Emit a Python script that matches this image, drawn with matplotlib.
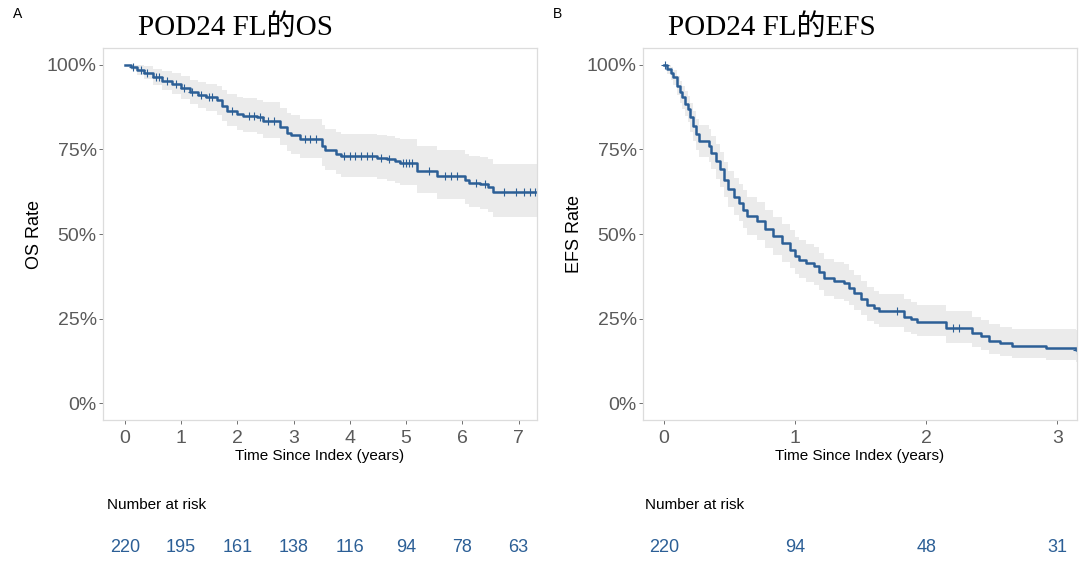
import numpy as np
import matplotlib
matplotlib.use("Agg")
import matplotlib.pyplot as plt
from matplotlib.transforms import blended_transform_factory

plt.rcParams['font.family'] = ['Liberation Sans', 'DejaVu Sans']

# OS curve (A): step knots, survival %, 95% band
os_t = [0.00, 0.10, 0.22, 0.33, 0.50, 0.65, 0.83, 1.00, 1.16, 1.30, 1.45, 1.63, 1.72, 1.81,
        2.00, 2.10, 2.34, 2.46, 2.75, 2.88, 2.96, 3.11, 3.50, 3.56, 3.75, 3.85, 4.48, 4.66,
        4.80, 4.89, 5.20, 5.55, 6.05, 6.12, 6.32, 6.45, 6.55, 7.33]
os_s = [100.0, 99.5, 98.6, 97.7, 96.4, 95.3, 94.4, 93.2, 91.9, 91.0, 90.4, 89.5, 87.8, 86.4,
        85.5, 85.0, 84.5, 83.5, 81.5, 80.0, 79.3, 78.0, 76.0, 74.8, 73.8, 73.1, 72.6, 72.1,
        71.5, 71.1, 68.7, 67.2, 66.0, 65.2, 64.7, 64.0, 62.4, 62.4]
os_lo = [100.0, 98.5, 97.0, 95.8, 94.0, 92.6, 91.4, 89.9, 88.4, 87.2, 86.4, 85.3, 83.4, 81.8,
         80.8, 80.2, 79.6, 78.4, 76.2, 74.6, 73.8, 72.4, 70.2, 68.9, 67.8, 67.0, 66.4, 65.8,
         65.1, 64.6, 62.0, 60.3, 58.9, 58.0, 57.4, 56.6, 54.9, 54.9]
os_hi = [100.0, 100.0, 100.0, 99.6, 98.9, 98.2, 97.5, 96.6, 95.6, 95.0, 94.5, 93.9, 92.5, 91.3,
         90.5, 90.1, 89.7, 88.9, 87.2, 85.9, 85.3, 84.1, 82.3, 81.2, 80.3, 79.7, 79.3, 78.9,
         78.4, 78.1, 76.0, 74.7, 73.8, 73.1, 72.7, 72.1, 70.6, 70.6]
os_cens = [0.15, 0.28, 0.40, 0.55, 0.60, 0.75, 0.90, 1.05, 1.20, 1.35, 1.50, 1.55, 1.90, 2.20,
           2.30, 2.40, 2.55, 2.65, 3.20, 3.30, 3.40, 3.90, 4.00, 4.10, 4.20, 4.30, 4.40, 4.55,
           4.70, 4.95, 5.00, 5.05, 5.10, 5.40, 5.70, 5.80, 5.90, 6.25, 6.40, 6.75, 6.95, 7.10,
           7.20, 7.30]
os_risk_t = [0, 1, 2, 3, 4, 5, 6, 7]
os_risk = [220, 195, 161, 138, 116, 94, 78, 63]

# EFS curve (B)
efs_t = [0.00, 0.02, 0.05, 0.07, 0.10, 0.12, 0.135, 0.16, 0.185, 0.20, 0.22, 0.245, 0.27,
         0.34, 0.36, 0.40, 0.43, 0.46, 0.49, 0.53, 0.57, 0.60, 0.63, 0.71, 0.77, 0.83, 0.90,
         0.96, 1.00, 1.03, 1.08, 1.14, 1.18, 1.22, 1.30, 1.37, 1.41, 1.45, 1.50, 1.55, 1.60,
         1.64, 1.83, 1.88, 1.93, 2.15, 2.35, 2.42, 2.48, 2.56, 2.65, 2.91, 3.14, 3.16]
efs_s = [100.0, 98.8, 97.5, 96.3, 93.9, 92.0, 90.4, 88.5, 86.9, 84.5, 82.0, 79.5, 77.5,
         76.1, 74.1, 71.5, 69.1, 66.0, 63.2, 61.0, 59.3, 57.2, 55.3, 53.8, 51.5, 49.3, 47.3,
         45.4, 43.5, 42.4, 41.3, 40.4, 38.7, 37.0, 36.0, 35.5, 34.0, 32.5, 30.8, 29.1, 28.0,
         27.1, 25.6, 24.8, 24.1, 22.2, 20.7, 19.7, 18.5, 17.7, 17.0, 16.2, 15.7, 15.7]
efs_lo = [100.0, 97.3, 95.5, 94.0, 91.0, 88.8, 87.0, 84.8, 83.0, 80.3, 77.6, 74.9, 72.7,
          71.2, 69.1, 66.4, 63.9, 60.8, 57.9, 55.6, 53.9, 51.8, 49.8, 48.3, 46.0, 43.8, 41.8,
          39.9, 38.1, 37.0, 35.9, 35.0, 33.4, 31.7, 30.8, 30.3, 28.9, 27.5, 25.9, 24.3, 23.3,
          22.5, 21.0, 20.3, 19.7, 17.9, 16.5, 15.6, 14.5, 13.8, 13.2, 12.6, 12.2, 12.2]
efs_hi = [100.0, 100.0, 99.5, 98.6, 96.8, 95.2, 93.9, 92.2, 90.8, 88.7, 86.4, 84.1, 82.3,
          81.0, 79.1, 76.6, 74.3, 71.4, 68.7, 66.6, 64.9, 62.9, 61.0, 59.5, 57.2, 55.0, 53.0,
          51.1, 49.2, 48.1, 47.0, 46.1, 44.3, 42.6, 41.6, 41.0, 39.5, 38.0, 36.2, 34.4, 33.2,
          32.3, 30.7, 29.9, 29.1, 27.1, 25.6, 24.6, 23.3, 22.6, 21.9, 21.8, 21.6, 21.6]
efs_cens = [0.01, 1.78, 2.20, 2.25, 3.15]
efs_risk_t = [0, 1, 2, 3]
efs_risk = [220, 94, 48, 31]

line_col = '#2c5f96'
band_col = '#ebebeb'
tick_col = '#5a5a5a'

fig = plt.figure(figsize=(10.8, 5.67), dpi=100)
ax1 = fig.add_axes([0.0954, 0.2593, 0.4019, 0.656])
ax2 = fig.add_axes([0.5954, 0.2593, 0.4019, 0.656])


def km_panel(ax, t, s, lo, hi, cens, xlim, xticks, ylab, risk_t, risk, risk_x):
    t = np.array(t)
    s = np.array(s) / 100
    ax.fill_between(t, np.array(lo) / 100, np.array(hi) / 100, step='post',
                    color=band_col, lw=0)
    ax.step(t, s, where='post', color=line_col, lw=1.8)
    c = np.array(cens)
    cy = s[np.searchsorted(t, c, side='right') - 1]
    ax.plot(c, cy, ls='none', marker='+', ms=6, mew=0.8, color=line_col)
    ax.set_xlim(*xlim)
    ax.set_ylim(-0.05, 1.05)
    ax.set_xticks(xticks)
    ax.set_yticks([0, 0.25, 0.5, 0.75, 1.0])
    ax.set_yticklabels(['0%', '25%', '50%', '75%', '100%'])
    ax.tick_params(colors=tick_col, labelsize=14, length=3, width=0.6)
    ax.tick_params(axis='y', pad=1.5)
    ax.tick_params(axis='x', pad=4)
    for sp in ax.spines.values():
        sp.set_color('#dcdcdc')
        sp.set_linewidth(0.9)
    ax.set_xlabel('Time Since Index (years)', fontsize=11, labelpad=2)
    ax.set_ylabel(ylab, fontsize=13, labelpad=0)
    ax.yaxis.set_label_coords(-(103 - 43) / 434, 0.5)
    tr = blended_transform_factory(ax.transData, fig.transFigure)
    for x, n in zip(risk_t, risk):
        ax.text(x, 1 - 547 / 567, str(n), transform=tr, ha='center', va='center',
                fontsize=13, color=line_col)
    fig.text(risk_x, 1 - 505 / 567, 'Number at risk', ha='left', va='center', fontsize=11)


km_panel(ax1, os_t, os_s, os_lo, os_hi, os_cens, (-0.39, 7.33), range(8), 'OS Rate',
         os_risk_t, os_risk, 107 / 1080)
km_panel(ax2, efs_t, efs_s, efs_lo, efs_hi, efs_cens, (-0.16, 3.15), range(4), 'EFS Rate',
         efs_risk_t, efs_risk, 645 / 1080)

title_font = ['Liberation Serif', 'Noto Sans CJK SC']
fig.text(138 / 1080, 1 - 27 / 567, 'POD24 FL的OS', family=title_font, fontsize=21,
         ha='left', va='center')
fig.text(668 / 1080, 1 - 27 / 567, 'POD24 FL的EFS', family=title_font, fontsize=21,
         ha='left', va='center')
fig.text(18 / 1080, 1 - 14 / 567, 'A', fontsize=10, ha='center', va='center')
fig.text(558 / 1080, 1 - 14 / 567, 'B', fontsize=10, ha='center', va='center')

plt.savefig('out.png', dpi=100)
